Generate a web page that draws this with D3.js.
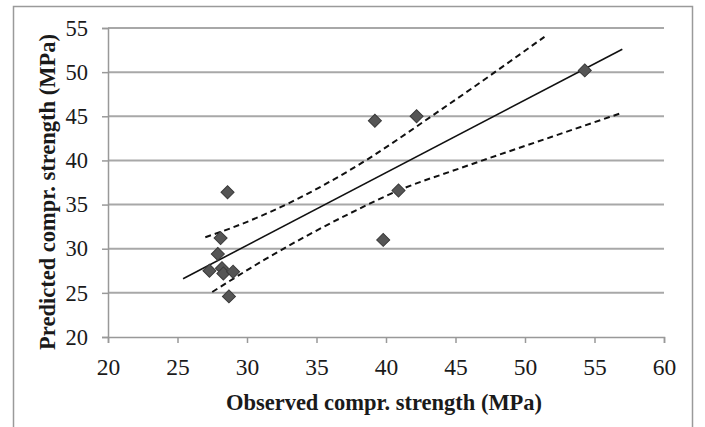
<!DOCTYPE html>
<html><head><meta charset="utf-8">
<script src="https://cdn.jsdelivr.net/npm/d3@7"></script>
<style>
html,body{margin:0;padding:0;background:#fff;}
svg{display:block;}
svg text{font-family:"Liberation Serif","Times New Roman",serif;fill:#1a1a1a;}
</style></head>
<body>
<svg id="chart" width="705" height="427"></svg>
<script>
// Data
const observed  = [54.3, 42.2, 39.2, 40.9, 39.8, 28.6, 28.1, 27.9, 27.3, 28.2, 28.3, 29.0, 28.7];
const predicted = [50.2, 45.0, 44.5, 36.6, 31.0, 36.4, 31.2, 29.4, 27.5, 27.8, 27.2, 27.4, 24.6];
const fitX = [25.4, 57.0];
const fitY = [26.6, 52.6];
const upperX = [27.0, 28.8, 33.2, 37.4, 44.1, 51.4];
const upperY = [31.3, 32.3, 35.3, 38.9, 45.9, 54.0];
const lowerX = [27.5, 31.2, 37.4, 40.9, 45.3, 51.6, 56.8];
const lowerY = [25.1, 28.7, 34.0, 36.6, 39.1, 42.5, 45.3];
const xTicks = [20, 25, 30, 35, 40, 45, 50, 55, 60];
const yTicks = [20, 25, 30, 35, 40, 45, 50, 55];
const xTitle = "Observed compr. strength (MPa)";
const yTitle = "Predicted compr. strength (MPa)";

const svg = d3.select("#chart");
const x = d3.scaleLinear().domain([20, 60]).range([108, 664]);
const y = d3.scaleLinear().domain([20, 55]).range([337, 28]);
const serif = "Liberation Serif, Times New Roman, serif";

// outer frame
svg.append("rect").attr("x", 13.5).attr("y", 6.5).attr("width", 679).attr("height", 440)
  .attr("fill", "none").attr("stroke", "#9a9a9a").attr("stroke-width", 1.5);

// gridlines
svg.append("g").selectAll("line").data(yTicks.filter(d => d > 20)).join("line")
  .attr("x1", x(20)).attr("x2", x(60)).attr("y1", d => y(d)).attr("y2", d => y(d))
  .attr("stroke", "#a8a8a8").attr("stroke-width", 2);

// y axis
const yAxis = svg.append("g").attr("transform", `translate(${x(20)},0)`)
  .call(d3.axisLeft(y).tickValues(yTicks).tickSize(6).tickPadding(14).tickFormat(d3.format("d")))
  .attr("font-family", serif).attr("font-size", 22.5);
yAxis.select(".domain").attr("stroke", "#999").attr("stroke-width", 1.5);
yAxis.selectAll(".tick line").attr("stroke", "#999").attr("stroke-width", 1.5);
yAxis.selectAll("text").attr("fill", "#1a1a1a");

// x axis
const xAxis = svg.append("g").attr("transform", `translate(0,${y(20)})`)
  .call(d3.axisBottom(x).tickValues(xTicks).tickSize(6).tickPadding(15).tickFormat(d3.format("d")))
  .attr("font-family", serif).attr("font-size", 23.5);
xAxis.select(".domain").attr("stroke", "#999").attr("stroke-width", 1.5);
xAxis.selectAll(".tick line").attr("stroke", "#999").attr("stroke-width", 1.5);
xAxis.selectAll("text").attr("fill", "#1a1a1a");

// lines
const line = d3.line().x(d => x(d[0])).y(d => y(d[1]));
const smooth = d3.line().x(d => x(d[0])).y(d => y(d[1])).curve(d3.curveMonotoneX);
svg.append("path").datum(d3.zip(upperX, upperY)).attr("d", smooth)
  .attr("fill", "none").attr("stroke", "#111").attr("stroke-width", 2).attr("stroke-dasharray", "6,4");
svg.append("path").datum(d3.zip(lowerX, lowerY)).attr("d", smooth)
  .attr("fill", "none").attr("stroke", "#111").attr("stroke-width", 2).attr("stroke-dasharray", "6,4");
svg.append("path").datum(d3.zip(fitX, fitY)).attr("d", line)
  .attr("fill", "none").attr("stroke", "#111").attr("stroke-width", 1.6);

// points
const sym = d3.symbol().type(d3.symbolSquare).size(85);
svg.append("g").selectAll("path").data(d3.zip(observed, predicted)).join("path")
  .attr("d", sym)
  .attr("transform", d => `translate(${x(d[0])},${y(d[1])}) rotate(45)`)
  .attr("fill", "#555").attr("stroke", "#3a3a3a").attr("stroke-width", 1);

// titles
svg.append("text").attr("x", 384).attr("y", 410).attr("text-anchor", "middle")
  .attr("font-family", serif).attr("font-size", 22.5).attr("font-weight", "bold").text(xTitle);
svg.append("text").attr("transform", "translate(55,192) rotate(-90)").attr("text-anchor", "middle")
  .attr("font-family", serif).attr("font-size", 22.5).attr("font-weight", "bold").text(yTitle);
</script>
</body></html>
